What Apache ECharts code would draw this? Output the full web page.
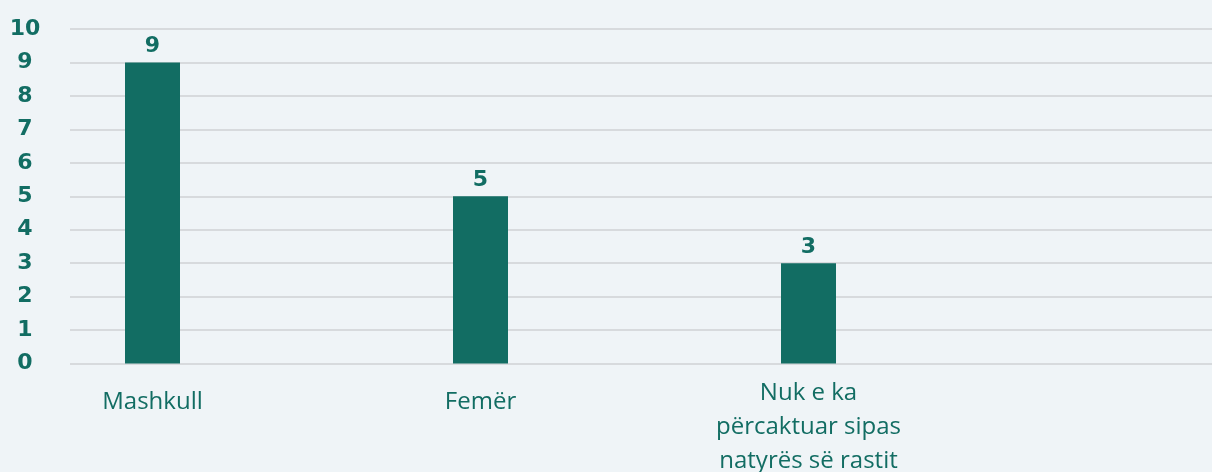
<!DOCTYPE html>
<html>
<head>
<meta charset="utf-8">
<script src="https://cdn.jsdelivr.net/npm/echarts@6/dist/echarts.min.js"></script>
<style>
  html, body { margin: 0; padding: 0; background: #eff4f7; }
  #chart { width: 1212px; height: 472px; }
</style>
</head>
<body>
<div id="chart"></div>
<script>
const categories = ["Mashkull", "Femër", "Nuk e ka\npërcaktuar sipas\nnatyrës së rastit", ""];
const values = [9, 5, 3, null];
const yTicks = [0, 1, 2, 3, 4, 5, 6, 7, 8, 9, 10];

const green = "#126d63";

const chart = echarts.init(document.getElementById("chart"));

// single-line labels sit a bit lower than the wrapped one
const xAxisData = categories.map(function (c) {
  const oneLine = c.indexOf("\n") < 0;
  return { value: c, textStyle: { padding: [oneLine ? 9 : 0, 0, 0, 0] } };
});

chart.setOption({
  backgroundColor: "#eff4f7",
  animation: false,
  grid: [
    // grid for the horizontal lines and y labels
    { left: 70, right: 0, top: 29, bottom: 108.5, outerBoundsMode: "none" },
    // grid for the bars (the plot is wider than what is shown)
    { left: -11.5, width: 1312, top: 29, bottom: 108.5, outerBoundsMode: "none" }
  ],
  xAxis: [
    { gridIndex: 0, type: "category", data: categories, show: false },
    {
      gridIndex: 1,
      type: "category",
      data: xAxisData,
      axisLine: { show: false },
      axisTick: { show: false },
      axisLabel: {
        interval: 0,
        margin: 13,
        color: green,
        fontFamily: "Open Sans",
        fontWeight: 500,
        fontSize: 24,
        lineHeight: 34
      }
    }
  ],
  yAxis: [
    {
      gridIndex: 0,
      type: "value",
      min: yTicks[0],
      max: yTicks[yTicks.length - 1],
      interval: 1,
      axisLine: { show: false },
      axisTick: { show: false },
      splitLine: { lineStyle: { color: "#cfd2d4", width: 1.5 } },
      axisLabel: {
        align: "center",
        margin: 45,
        color: green,
        fontFamily: "DejaVu Sans",
        fontWeight: "bold",
        fontSize: 22
      }
    },
    {
      gridIndex: 1,
      type: "value",
      min: yTicks[0],
      max: yTicks[yTicks.length - 1],
      show: false
    }
  ],
  series: [
    {
      type: "bar",
      xAxisIndex: 1,
      yAxisIndex: 1,
      data: values,
      barWidth: 55,
      itemStyle: { color: green },
      label: {
        show: true,
        position: "top",
        distance: 5,
        color: green,
        fontFamily: "DejaVu Sans",
        fontWeight: "bold",
        fontSize: 22
      }
    }
  ]
});
</script>
</body>
</html>
